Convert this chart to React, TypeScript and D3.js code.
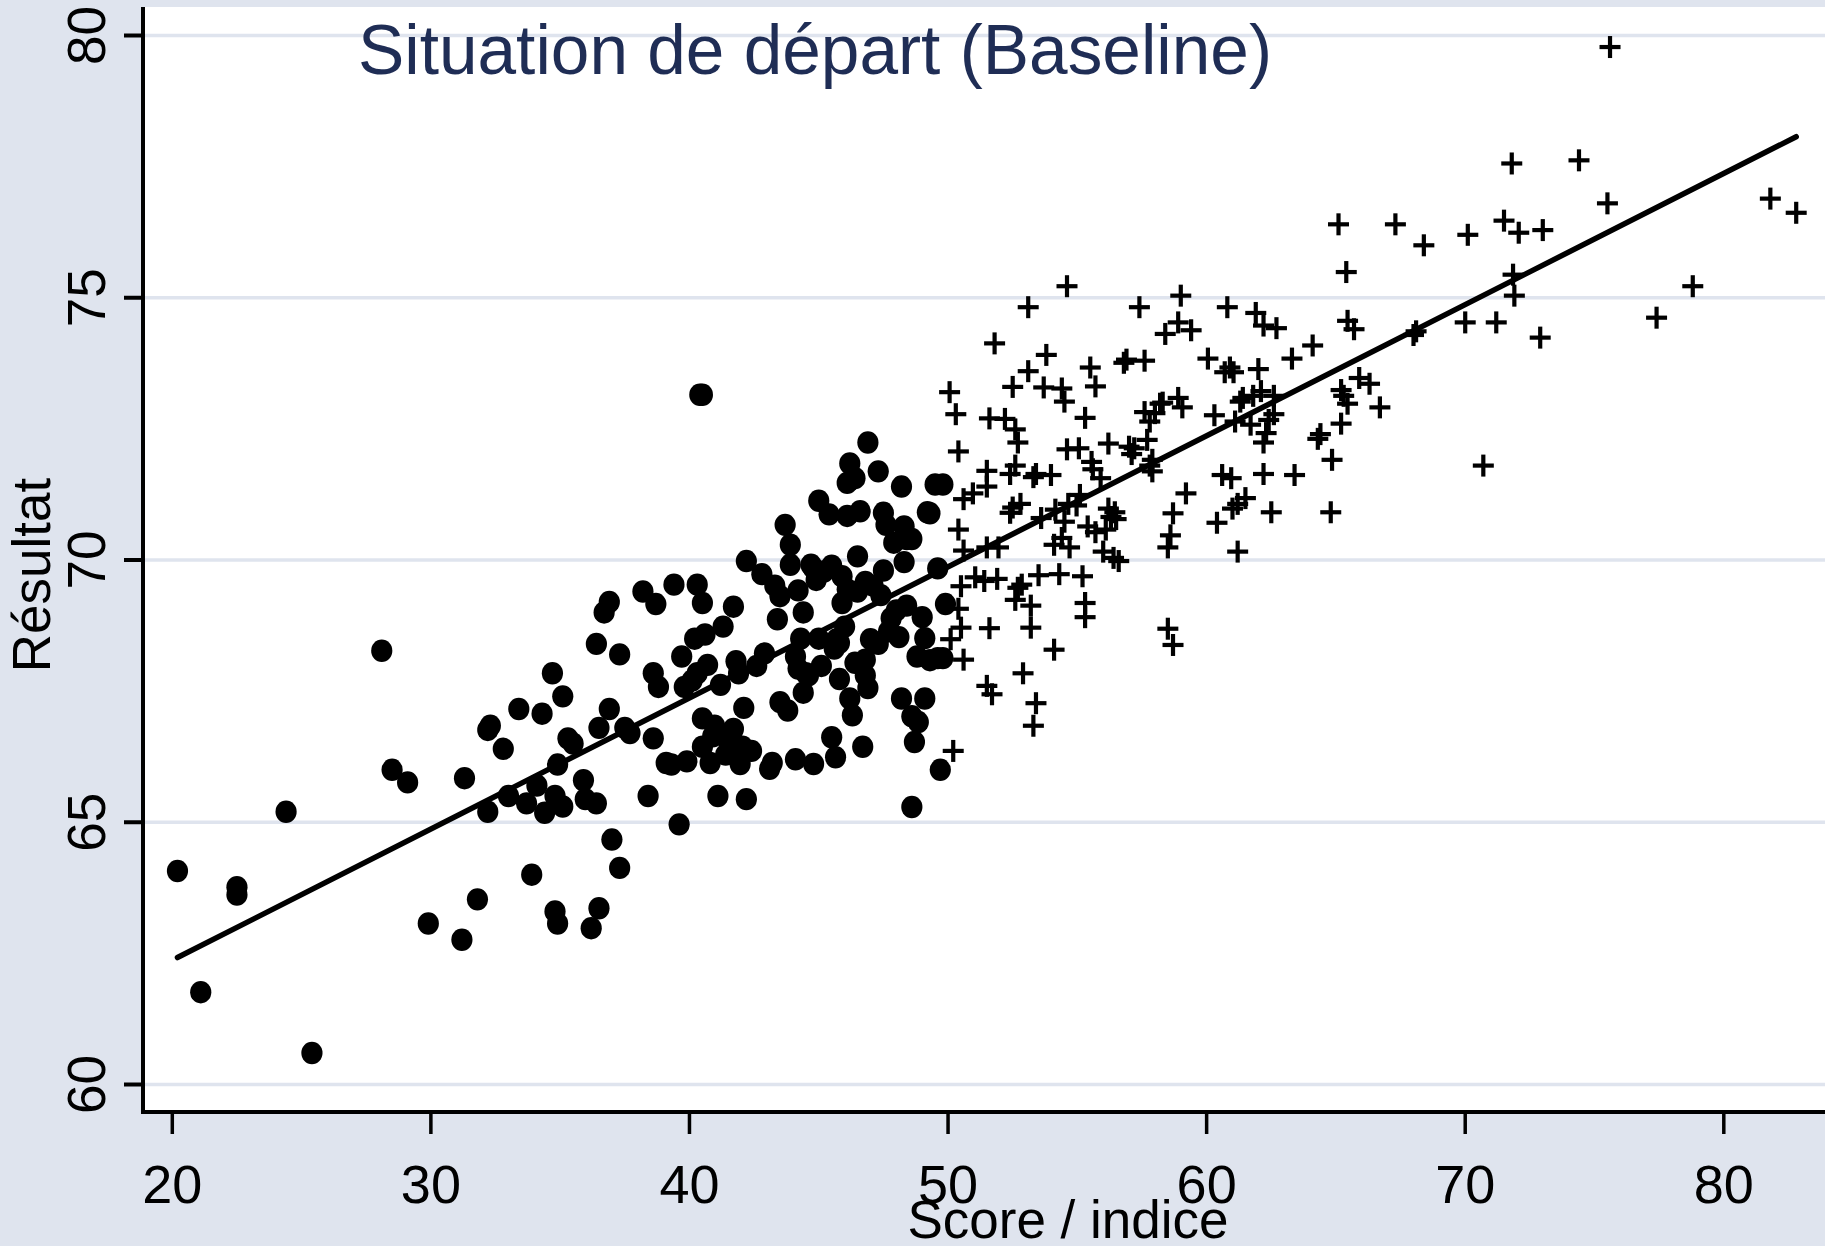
import React from "react";
import * as d3 from "d3";

// ---- Data ----
const circleX = [20.2,21.1,22.5,22.5,24.4,25.4,28.1,28.5,29.1,29.9,31.2,31.3,31.8,32.2,32.3,32.2,32.8,33.0,33.4,33.7,33.9,34.1,34.3,34.4,34.7,34.8,34.8,34.9,34.9,35.1,35.1,35.3,35.5,35.9,35.97,36.2,36.4,36.4,36.5,36.5,36.7,36.9,36.9,37.0,37.3,37.3,37.5,37.7,38.2,38.4,38.6,38.6,38.7,38.8,39.1,39.3,39.4,39.6,39.7,39.8,39.9,40.1,40.2,40.3,40.3,40.4,40.5,40.5,40.5,40.5,40.6,40.7,40.8,40.9,40.97,41.1,41.2,41.3,41.4,41.5,41.6,41.7,41.7,41.8,41.9,41.96,42.05,42.1,42.2,42.2,42.4,42.6,42.8,42.9,43.1,43.2,43.3,43.4,43.5,43.5,43.7,43.8,43.9,43.9,44.1,44.1,44.2,44.2,44.3,44.4,44.4,44.5,44.6,44.7,44.8,44.8,44.9,45.0,45.0,45.1,45.2,45.4,45.5,45.5,45.6,45.65,45.7,45.8,45.8,45.9,45.9,46.0,46.1,46.1,46.1,46.2,46.2,46.3,46.4,46.4,46.5,46.5,46.6,46.7,46.8,46.8,46.8,46.9,46.9,47.0,47.1,47.3,47.3,47.4,47.5,47.5,47.6,47.7,47.8,47.9,48.0,48.1,48.2,48.2,48.3,48.3,48.4,48.4,48.6,48.6,48.6,48.7,48.8,48.85,49.0,49.1,49.1,49.2,49.3,49.3,49.5,49.6,49.6,49.7,49.8,49.8,49.9];
const circleY = [64.07,61.76,63.62,63.76,65.2,60.6,68.27,66.0,65.76,63.07,62.76,65.84,63.53,66.76,66.84,65.2,66.4,65.5,67.16,65.36,64.0,65.7,67.07,65.18,67.84,65.5,63.3,63.07,66.1,67.4,65.3,66.6,66.5,65.8,65.44,62.98,68.4,65.36,66.8,63.36,69.0,69.2,67.16,64.67,64.13,68.2,66.8,66.7,69.4,65.5,67.84,66.6,69.16,67.58,66.13,66.1,69.53,64.96,68.16,67.58,66.16,67.7,68.5,69.53,67.84,73.15,69.18,66.98,66.44,73.15,68.58,68.0,66.13,66.64,66.84,65.5,67.62,68.73,66.29,66.56,66.47,66.78,69.11,68.07,67.84,66.11,66.44,67.18,69.98,65.44,66.36,67.98,69.73,68.22,66.02,66.13,69.51,68.87,69.31,67.29,70.67,67.13,70.29,69.91,68.16,66.2,69.42,67.93,68.5,69.0,67.47,67.84,67.8,69.91,69.84,66.11,69.62,71.13,68.5,67.98,69.78,70.87,69.89,66.62,68.31,66.24,68.49,68.42,67.73,69.18,69.69,68.73,69.44,70.84,71.47,71.84,67.36,67.04,68.04,71.56,70.07,69.4,70.93,66.44,69.58,68.1,67.8,72.24,67.56,68.49,69.51,71.69,68.4,69.33,69.8,70.9,70.67,68.64,68.89,70.33,69.04,68.53,71.4,67.36,70.64,69.96,69.13,70.4,65.29,70.4,67.02,66.53,68.16,66.91,68.91,68.51,67.36,70.91,68.09,70.89,71.44,68.13,69.84,66.0,68.13,71.44,69.16];

const plusX = [50.06,50.1,50.2,50.3,50.4,50.4,50.4,50.5,50.5,50.6,50.6,50.6,50.96,51.05,51.4,51.5,51.5,51.5,51.5,51.6,51.6,51.7,51.8,51.9,51.95,52.2,52.4,52.4,52.5,52.5,52.6,52.6,52.6,52.7,52.7,52.8,52.85,52.9,53.1,53.1,53.2,53.2,53.3,53.3,53.4,53.4,53.5,53.6,53.7,53.8,53.98,54.1,54.1,54.15,54.3,54.4,54.4,54.5,54.5,54.6,54.6,54.65,54.7,54.97,55.06,55.1,55.2,55.3,55.3,55.3,55.4,55.5,55.55,55.6,55.7,55.7,55.9,56.0,56.1,56.2,56.2,56.3,56.4,56.45,56.5,56.6,56.8,56.9,57.0,57.1,57.2,57.4,57.6,57.6,57.7,57.8,57.8,57.9,57.9,58.0,58.2,58.3,58.4,58.5,58.5,58.6,58.7,58.7,58.9,58.9,59.0,59.06,59.2,59.4,60.05,60.3,60.4,60.6,60.7,60.8,60.9,60.95,61.0,61.04,61.1,61.2,61.2,61.3,61.4,61.5,61.7,61.8,61.9,62.0,62.1,62.2,62.2,62.2,62.3,62.4,62.5,62.6,62.6,62.7,63.3,63.4,64.1,64.3,64.4,64.85,64.8,65.1,65.2,65.2,65.3,65.4,65.45,65.45,65.7,65.9,66.3,66.7,67.3,68.0,68.1,68.4,70.0,70.1,70.7,71.2,71.5,71.8,71.85,71.9,72.07,72.9,73.0,74.4,75.5,75.6,77.4,78.8,81.8,82.8];
const plusY = [73.2,68.49,66.36,72.78,72.07,70.58,69.07,69.5,68.71,71.16,68.1,70.18,71.27,69.67,69.6,70.24,71.7,71.4,67.6,68.7,72.7,67.44,74.13,69.64,70.24,72.69,71.64,70.9,73.3,71.0,72.49,71.8,69.24,69.47,72.24,71.07,69.53,67.84,73.6,74.82,68.71,69.13,71.58,66.84,67.27,71.64,69.71,70.8,73.29,73.91,71.62,68.29,70.29,70.96,69.73,73.27,70.42,73.02,70.73,75.22,72.11,71.07,70.24,71.04,72.13,71.24,69.69,68.91,72.71,69.18,70.64,73.67,71.87,71.73,73.31,70.53,71.56,70.16,70.58,72.22,70.98,70.82,70.04,70.91,70.78,69.98,73.76,73.82,72.16,72.02,72.13,74.82,73.8,72.82,72.29,72.64,71.8,71.69,71.91,72.8,72.98,73.0,74.31,70.24,68.69,70.47,70.89,68.38,74.53,73.09,75.04,72.91,71.27,74.38,73.84,72.76,70.71,71.62,73.58,74.82,73.67,71.56,70.98,73.58,72.64,70.16,71.07,73.02,73.09,71.18,72.58,73.13,74.71,73.64,73.22,74.47,72.24,71.64,72.42,72.67,70.91,73.13,72.78,74.42,73.84,71.62,74.09,72.31,72.4,71.91,70.91,76.4,73.24,72.6,73.13,75.49,72.98,74.56,74.4,73.47,73.36,72.91,76.4,74.29,74.36,76.0,74.53,76.2,71.8,74.53,76.47,77.56,75.44,75.04,76.24,74.24,76.29,77.62,76.8,79.78,74.62,75.22,76.89,76.62];

// fitted line endpoints
const fitX = [20.2, 82.8];
const fitY = [62.42, 78.07];

const xTicks = [20, 30, 40, 50, 60, 70, 80];
const yTicks = [60, 65, 70, 75, 80];

const titleText = "Situation de départ (Baseline)";
const xTitle = "Score / indice";
const yTitle = "Résultat";

export default function App() {
  const W = 1825, H = 1246;
  const plotLeft = 143, plotTop = 7, plotBottom = 1112;
  const x = d3.scaleLinear().domain([20, 80]).range([172.3, 1723.8]);
  const y = d3.scaleLinear().domain([60, 80]).range([1084.5, 35.5]);
  const bg = "#dfe4ee";
  const font = "'Liberation Sans', Arial, Helvetica, sans-serif";
  const line = d3.line<number>().x((d, i) => x(fitX[i])).y((d, i) => y(fitY[i]));
  const plusHalfW = 10.5, plusHalfH = 11;

  return (
    <svg width={W} height={H} style={{ position: "absolute", left: 0, top: 0 }} fontFamily={font}>
      <rect x={0} y={0} width={W} height={H} fill={bg} />
      <rect x={plotLeft} y={plotTop} width={W - plotLeft} height={plotBottom - plotTop} fill="#ffffff" />
      {yTicks.map((t) => (
        <line key={"g" + t} x1={plotLeft} x2={W} y1={y(t)} y2={y(t)} stroke={bg} strokeWidth={3.5} />
      ))}
      {/* title */}
      <text x={358} y={74} fontSize={69.5} fill="#1f2d55" textLength={914} lengthAdjust="spacingAndGlyphs">{titleText}</text>
      {/* circles */}
      <g fill="#000">
        {circleX.map((v, i) => (
          <ellipse key={"c" + i} cx={x(v)} cy={y(circleY[i])} rx={10.6} ry={11.2} />
        ))}
      </g>
      {/* plus markers */}
      <g stroke="#000" strokeWidth={4.2}>
        {plusX.map((v, i) => {
          const cx = x(v), cy = y(plusY[i]);
          return (
            <g key={"p" + i}>
              <line x1={cx - plusHalfW} x2={cx + plusHalfW} y1={cy} y2={cy} />
              <line x1={cx} x2={cx} y1={cy - plusHalfH} y2={cy + plusHalfH} />
            </g>
          );
        })}
      </g>
      {/* fitted line */}
      <path d={line(fitX) || ""} fill="none" stroke="#000" strokeWidth={5.5} strokeLinecap="round" />
      {/* axes */}
      <line x1={plotLeft} x2={plotLeft} y1={plotTop} y2={plotBottom + 2} stroke="#000" strokeWidth={4} />
      <line x1={plotLeft - 2} x2={W} y1={plotBottom} y2={plotBottom} stroke="#000" strokeWidth={4} />
      {yTicks.map((t) => (
        <g key={"yt" + t}>
          <line x1={124} x2={plotLeft} y1={y(t)} y2={y(t)} stroke="#000" strokeWidth={4} />
          <text transform={`translate(105,${y(t)}) rotate(-90)`} textAnchor="middle" fontSize={53} fill="#000">{t}</text>
        </g>
      ))}
      {xTicks.map((t) => (
        <g key={"xt" + t}>
          <line x1={x(t)} x2={x(t)} y1={plotBottom} y2={plotBottom + 22} stroke="#000" strokeWidth={3.5} />
          <text x={x(t)} y={1203} textAnchor="middle" fontSize={54} fill="#000">{t}</text>
        </g>
      ))}
      <text x={1068} y={1238} textAnchor="middle" fontSize={53} fill="#000">{xTitle}</text>
      <text transform={`translate(50,575) rotate(-90)`} textAnchor="middle" fontSize={53} fill="#000">{yTitle}</text>
    </svg>
  );
}
